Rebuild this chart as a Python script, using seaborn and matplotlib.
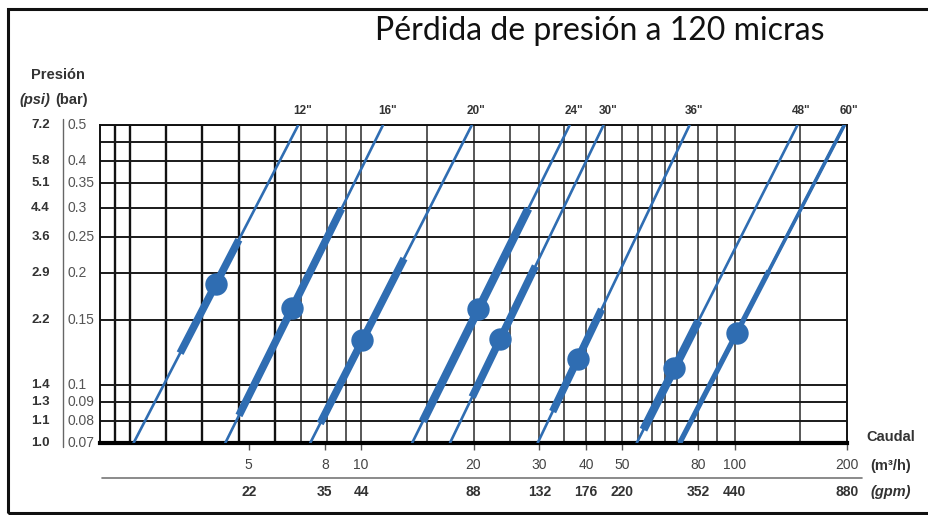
import numpy as np
import pandas as pd
import matplotlib
matplotlib.use("Agg")
import matplotlib.pyplot as plt
import seaborn as sns
from matplotlib import font_manager
from matplotlib.transforms import blended_transform_factory
from matplotlib.patches import Rectangle

# ---------------- data ----------------
filters = ['12"', '16"', '20"', '24"', '30"', '36"', '48"', '60"']
q_bottom = [2.46, 4.33, 7.31, 13.7, 17.3, 29.7, 54.7, 71.3]      # m3/h at 0.07 bar
q_top = [6.79, 11.45, 19.8, 36.2, 44.6, 75.8, 147.4, 196.8]       # m3/h at 0.5 bar
thick_p_low = [0.122, 0.083, 0.079, 0.080, 0.093, 0.085, 0.076, 0.070]
thick_p_high = [0.246, 0.298, 0.219, 0.298, 0.209, 0.160, 0.149, 0.203]
dot_p = [0.187, 0.161, 0.132, 0.160, 0.133, 0.118, 0.111, 0.138]

bar_ticks = [0.5, 0.4, 0.35, 0.3, 0.25, 0.2, 0.15, 0.1, 0.09, 0.08, 0.07]
bar_labels = ["0.5", "0.4", "0.35", "0.3", "0.25", "0.2", "0.15", "0.1", "0.09", "0.08", "0.07"]
psi_labels = ["7.2", "5.8", "5.1", "4.4", "3.6", "2.9", "2.2", "1.4", "1.3", "1.1", "1.0"]
h_grid = [0.5, 0.45, 0.4, 0.35, 0.3, 0.25, 0.2, 0.15, 0.1, 0.09, 0.08, 0.07]

flow_ticks = [5, 8, 10, 20, 30, 40, 50, 80, 100, 200]
flow_labels = ["5", "8", "10", "20", "30", "40", "50", "80", "100", "200"]
gpm_labels = ["22", "35", "44", "88", "132", "176", "220", "352", "440", "880"]
v_grid_dark = [2.2, 2.4, 3.0, 3.75, 4.7, 5.9]
v_grid = [6.9, 8.1, 9.1, 10, 15, 20, 25, 30, 35, 40, 45, 50, 55, 60, 65, 70, 80, 90, 100, 150]

P_MIN, P_MAX = 0.07, 0.5
thick_widths = [5.5, 5.5, 5.5, 6.0, 5.5, 5.5, 6.0, 3.8]

# ---------------- style ----------------
sns.set_theme(style="white")
names = {f.name for f in font_manager.fontManager.ttflist}
narrow = "Liberation Sans Narrow" if "Liberation Sans Narrow" in names else "Liberation Sans"
plt.rcParams["font.family"] = [narrow, "DejaVu Sans"]

BLUE = "#2f6db2"
W, H = 929, 515
fig = plt.figure(figsize=(W / 100, H / 100), dpi=100)
fig.patch.set_facecolor("white")

L, R, T, B = 100, 847, 125, 443
ax = fig.add_axes([L / W, 1 - B / H, (R - L) / W, (B - T) / H])
ax.set_xscale("log")
ax.set_yscale("log")
ax.set_xlim(2.0, 200)
ax.set_ylim(P_MIN, P_MAX)
ax.set_facecolor("white")

# grid
for v in v_grid_dark:
    ax.axvline(v, color="#111111", lw=1.7, zorder=1)
for v in v_grid:
    ax.axvline(v, color="#2a2a2a", lw=1.1, zorder=1)
for h in h_grid:
    ax.axhline(h, color="#1a1a1a", lw=1.4, zorder=1)

# lines
def q_at(i, p):
    k = np.log(q_top[i] / q_bottom[i]) / np.log(P_MAX / P_MIN)
    return q_bottom[i] * (np.asarray(p) / P_MIN) ** k

thin_rows = []
for i, f in enumerate(filters):
    thin_rows.append({"filtro": f, "Q": q_bottom[i], "P": P_MIN})
    thin_rows.append({"filtro": f, "Q": q_top[i], "P": P_MAX})
thin_df = pd.DataFrame(thin_rows)
sns.lineplot(data=thin_df, x="Q", y="P", units="filtro", estimator=None,
             color=BLUE, lw=1.9, ax=ax, zorder=3, legend=False)
# 60" line a bit heavier
sns.lineplot(data=thin_df[thin_df["filtro"] == '60"'], x="Q", y="P",
             color=BLUE, lw=2.6, ax=ax, zorder=3, legend=False)

for i, f in enumerate(filters):
    seg = pd.DataFrame({"Q": q_at(i, [thick_p_low[i], thick_p_high[i]]),
                        "P": [thick_p_low[i], thick_p_high[i]]})
    sns.lineplot(data=seg, x="Q", y="P", color=BLUE, lw=thick_widths[i],
                 ax=ax, zorder=4, legend=False, solid_capstyle="butt")

dots = pd.DataFrame({"Q": [q_at(i, dot_p[i]) for i in range(len(filters))], "P": dot_p})
sns.scatterplot(data=dots, x="Q", y="P", s=260, color=BLUE, edgecolor=BLUE,
                linewidth=0, ax=ax, zorder=5, legend=False)

# size labels at top of lines
for i, f in enumerate(filters):
    ax.annotate(f, xy=(q_top[i], P_MAX), xytext=(3, 6), textcoords="offset points",
                ha="center", va="bottom", fontsize=8.5, fontweight="bold",
                color="#333333", annotation_clip=False)

# spines
for s in ["left", "right", "top"]:
    ax.spines[s].set_visible(True)
    ax.spines[s].set_color("#111111")
    ax.spines[s].set_linewidth(1.4)
ax.spines["bottom"].set_visible(True)
ax.spines["bottom"].set_color("#000000")
ax.spines["bottom"].set_linewidth(3)

# ticks
ax.minorticks_off()
ax.set_xticks(flow_ticks)
ax.set_xticklabels(flow_labels, fontsize=10, color="#444444")
ax.tick_params(axis="x", which="major", direction="out", length=5, width=1,
               color="#555555", pad=6, bottom=True)
ax.set_yticks([])
ax.set_xlabel("")
ax.set_ylabel("")

# y labels (bar and psi)
ty = blended_transform_factory(fig.transFigure, ax.transData)
for p, bl, pl in zip(bar_ticks, bar_labels, psi_labels):
    ax.text(68 / W, p, bl, transform=ty, ha="left", va="center", fontsize=10, color="#555555")
    ax.text(50 / W, p, pl, transform=ty, ha="right", va="center", fontsize=9.5,
            fontweight="bold", color="#333333")
fig.add_artist(plt.Line2D([63 / W, 63 / W], [1 - 119 / H, 1 - 447 / H], color="#666666", lw=1))

# gpm labels
tx = blended_transform_factory(ax.transData, fig.transFigure)
for q, g in zip(flow_ticks, gpm_labels):
    ax.text(q, 1 - 492 / H, g, transform=tx, ha="center", va="center", fontsize=10,
            fontweight="bold", color="#333333")
fig.add_artist(plt.Line2D([102 / W, 862 / W], [1 - 478 / H, 1 - 478 / H], color="#777777", lw=1.2))

# axis captions
fig.text(58 / W, 1 - 75 / H, "Presión", ha="center", va="center", fontsize=10.5,
         fontweight="bold", color="#333333", family=["Liberation Sans", "DejaVu Sans"])
fig.text(19 / W, 1 - 100 / H, "(psi)", ha="left", va="center", fontsize=10.5,
         fontweight="bold", style="italic", color="#333333", family=["Liberation Sans", "DejaVu Sans"])
fig.text(55 / W, 1 - 100 / H, "(bar)", ha="left", va="center", fontsize=10.5,
         fontweight="bold", color="#333333", family=["Liberation Sans", "DejaVu Sans"])
fig.text(866 / W, 1 - 437 / H, "Caudal", ha="left", va="center", fontsize=10.5,
         fontweight="bold", color="#333333", family=["Liberation Sans", "DejaVu Sans"])
fig.text(870 / W, 1 - 466 / H, "(m³/h)", ha="left", va="center", fontsize=10.5,
         fontweight="bold", color="#333333", family=["Liberation Sans", "DejaVu Sans"])
fig.text(870 / W, 1 - 492 / H, "(gpm)", ha="left", va="center", fontsize=10.5,
         fontweight="bold", style="italic", color="#333333", family=["Liberation Sans", "DejaVu Sans"])

# title
fig.text(600 / W, 1 - 31 / H, "Pérdida de presión a 120 micras", ha="center", va="center",
         fontsize=23, color="#111111", family=["Lato", "DejaVu Sans"])

# outer frame
fig.add_artist(Rectangle((8 / W, 2 / H), 1.2, 1 - 11 / H, transform=fig.transFigure,
                         fill=False, edgecolor="#111111", lw=2.2))

fig.savefig("out.png", dpi=100, facecolor="white")
